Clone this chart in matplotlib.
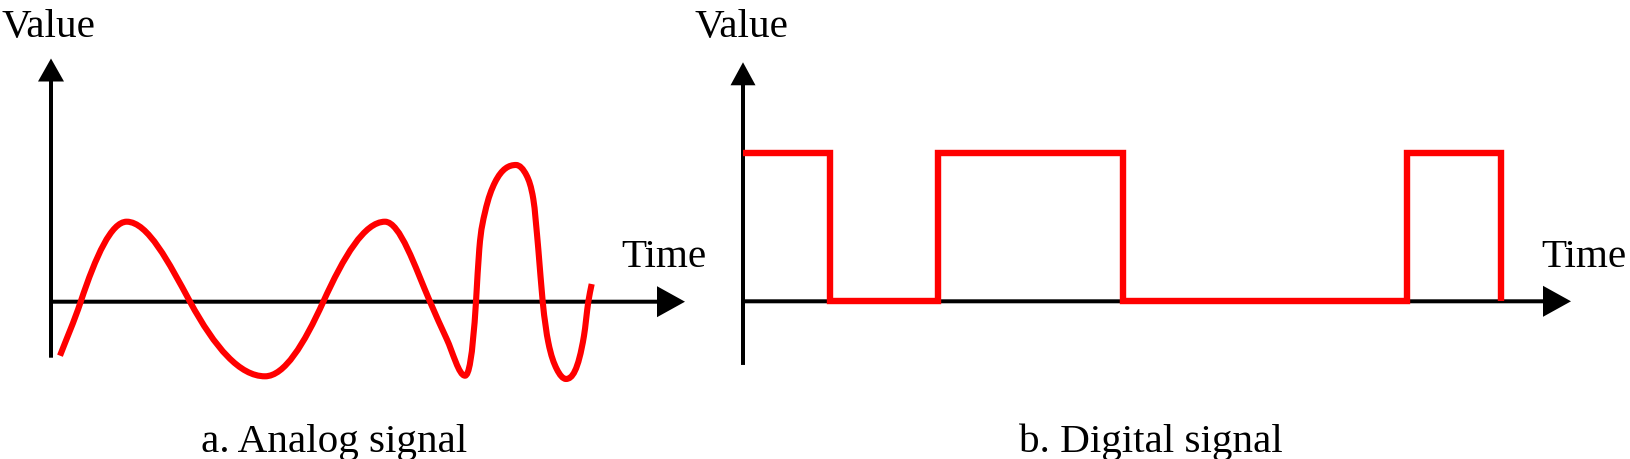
import matplotlib
matplotlib.use("Agg")
import matplotlib.pyplot as plt
from matplotlib.path import Path
from matplotlib.patches import PathPatch
import numpy as np

# ---------------- data ----------------
# analog signal: key samples along the curve (time, value, local slope dv/dt)
analog_time = [0.9, 2.97, 7.57, 13.9, 21.4, 27.23, 33.4, 37.9, 39.57, 41.4,
               42.5, 42.83, 43.4, 44.4, 46.5, 47.57, 48.23, 48.73, 49.17,
               49.73, 50.57, 51.5, 53.3, 53.73, 54.07]
analog_value = [-0.675, 0.0, 1.0, 0.0, -0.9325, 0.0, 1.0, 0.0, -0.466, -0.925,
                0.0, 0.659, 1.1175, 1.4925, 1.709, 1.575, 1.284, 0.659, 0.0,
                -0.5075, -0.841, -0.966, -0.425, 0.0, 0.221]
analog_slope = [0.325, 0.375, 0.0, -0.231, 0.0, 0.275, 0.0, -0.29, -0.27,
                0.0, 2.0, 1.5, 0.5625, 0.25, 0.0, -0.25, -0.75, -1.375, -1.25,
                -0.625, -0.25, 0.0, 0.75, 0.85, 0.72]

# digital signal: step edges and levels (post step)
digital_edges = [0.0, 8.7, 19.5, 38.0, 66.4, 75.75]
digital_levels = [1, 0, 1, 0, 1, 0]

y_label = "Value"
x_label = "Time"
captions = ["a. Analog signal", "b. Digital signal"]

# ---------------- layout ----------------
W, H = 1630, 460
fig = plt.figure(figsize=(W / 100, H / 100), dpi=100)
plt.rcParams['font.family'] = ['Liberation Serif', 'DejaVu Serif']
FS = 29.6
RED = "#ff0000"


def make_axes(ox, oy, sx, sy):
    ax = fig.add_axes([0, 0, 1, 1])
    ax.set_axis_off()
    ax.patch.set_alpha(0)
    ax.set_xlim(-ox / sx, (W - ox) / sx)
    ax.set_ylim(-(H - oy) / sy, oy / sy)
    return ax


def draw_axes_arrows(ax, sx, sy, v_bot, v_top, t_end, up_head, right_head):
    lw_px = 4.0
    ax.arrow(0, v_bot, 0, v_top - v_bot, width=lw_px / sx,
             head_width=up_head[0] / sx, head_length=up_head[1] / sy,
             length_includes_head=True, color="black", lw=0, zorder=2)
    ax.arrow(0, 0, t_end, 0, width=lw_px / sy,
             head_width=right_head[0] / sy, head_length=right_head[1] / sx,
             length_includes_head=True, color="black", lw=0, zorder=2)


def hermite_path(ts, vs, ms):
    """Cubic Hermite curve through samples with given slopes, as Bezier path."""
    verts = [(ts[0], vs[0])]
    codes = [Path.MOVETO]
    for i in range(len(ts) - 1):
        dt = ts[i + 1] - ts[i]
        verts += [(ts[i] + dt / 3.0, vs[i] + ms[i] * dt / 3.0),
                  (ts[i + 1] - dt / 3.0, vs[i + 1] - ms[i + 1] * dt / 3.0),
                  (ts[i + 1], vs[i + 1])]
        codes += [Path.CURVE4] * 3
    return Path(np.array(verts), codes)


# left panel: analog
sxA, syA = 10.0, 80.0
axA = make_axes(51, 302.7, sxA, syA)
draw_axes_arrows(axA, sxA, syA, -0.70, 3.04, 63.4, (26, 23), (31, 28))
axA.add_patch(PathPatch(hermite_path(analog_time, analog_value, analog_slope),
                        fill=False, edgecolor=RED, lw=4.4, capstyle="butt",
                        joinstyle="round", zorder=3))

# right panel: digital
sxD, syD = 10.0, 148.0
axD = make_axes(743, 302.3, sxD, syD)
draw_axes_arrows(axD, sxD, syD, -0.43, 1.615, 82.8, (25, 23), (31, 28))
axD.step(digital_edges, digital_levels, where="post", color=RED, lw=4.6,
         solid_joinstyle="miter", solid_capstyle="butt", zorder=3)


def ftext(x, y, s):
    fig.text(x / W, 1 - y / H, s, ha="left", va="baseline", fontsize=FS,
             color="black")


ftext(2, 37.3, y_label)
ftext(621, 266.7, x_label)
ftext(201, 451.7, captions[0])
ftext(694.4, 37.3, y_label)
ftext(1541, 266.7, x_label)
ftext(1018.7, 451.7, captions[1])

fig.savefig("out.png", dpi=100)
